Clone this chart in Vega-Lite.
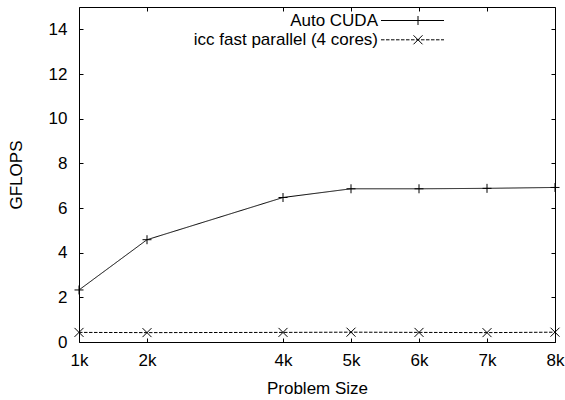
{
  "$schema": "https://vega.github.io/schema/vega-lite/v6.json",
  "width": 476,
  "height": 335,
  "autosize": "none",
  "padding": {"left": 79, "top": 7, "right": 10, "bottom": 58},
  "background": "white",
  "config": {
    "font": "Liberation Sans",
    "view": {"stroke": "black", "strokeWidth": 1},
    "axis": {
      "grid": false,
      "domain": false,
      "tickColor": "black",
      "tickSize": -4,
      "tickWidth": 1,
      "labelColor": "black",
      "labelFontSize": 17,
      "labelFont": "Liberation Sans",
      "titleFontSize": 17,
      "titleFont": "Liberation Sans",
      "titleFontWeight": "normal",
      "titleColor": "black"
    }
  },
  "data": {
    "values": [
      {"series": "Auto CUDA", "size": 1, "gflops": 2.33},
      {"series": "Auto CUDA", "size": 2, "gflops": 4.58},
      {"series": "Auto CUDA", "size": 4, "gflops": 6.47},
      {"series": "Auto CUDA", "size": 5, "gflops": 6.86},
      {"series": "Auto CUDA", "size": 6, "gflops": 6.86},
      {"series": "Auto CUDA", "size": 7, "gflops": 6.88},
      {"series": "Auto CUDA", "size": 8, "gflops": 6.92},
      {"series": "icc fast parallel (4 cores)", "size": 1, "gflops": 0.43},
      {"series": "icc fast parallel (4 cores)", "size": 2, "gflops": 0.42},
      {"series": "icc fast parallel (4 cores)", "size": 4, "gflops": 0.43},
      {"series": "icc fast parallel (4 cores)", "size": 5, "gflops": 0.44},
      {"series": "icc fast parallel (4 cores)", "size": 6, "gflops": 0.43},
      {"series": "icc fast parallel (4 cores)", "size": 7, "gflops": 0.42},
      {"series": "icc fast parallel (4 cores)", "size": 8, "gflops": 0.44}
    ]
  },
  "layer": [
    {
      "mark": {"type": "line", "color": "black", "strokeWidth": 1},
      "encoding": {
        "x": {
          "field": "size", "type": "quantitative",
          "scale": {"domain": [1, 8], "nice": false, "zero": false},
          "axis": {"orient": "bottom", "values": [1, 2, 4, 5, 6, 7, 8], "labelExpr": "datum.value + 'k'", "title": "Problem Size", "labelPadding": 14, "titlePadding": 12, "labelFlush": false}
        },
        "y": {
          "field": "gflops", "type": "quantitative",
          "scale": {"domain": [0, 15], "nice": false, "zero": true},
          "axis": {"orient": "left", "values": [0, 2, 4, 6, 8, 10, 12, 14], "title": "GFLOPS", "labelPadding": 16, "titlePadding": 23}
        },
        "strokeDash": {
          "field": "series", "type": "nominal",
          "scale": {"domain": ["Auto CUDA", "icc fast parallel (4 cores)"], "range": [[1, 0], [3.5, 1.5]]},
          "legend": {
            "orient": "none", "legendX": 325, "legendY": 5, "title": null,
            "symbolType": "M-7,0H7", "symbolSize": 81, "symbolStrokeWidth": 1, "symbolStrokeColor": "black", "symbolFillColor": "transparent",
            "labelAlign": "right", "labelOffset": -43, "labelFontSize": 17, "labelColor": "black", "labelFont": "Liberation Sans", "labelLimit": 400,
            "rowPadding": 1.3, "padding": 0
          }
        }
      }
    },
    {
      "mark": {"type": "point", "filled": false, "color": "black", "strokeWidth": 1, "size": 81, "opacity": 1},
      "encoding": {
        "x": {
          "field": "size", "type": "quantitative",
          "scale": {"domain": [1, 8], "nice": false, "zero": false},
          "axis": {"orient": "top", "values": [1, 2, 4, 5, 6, 7, 8], "labels": false, "title": null}
        },
        "y": {
          "field": "gflops", "type": "quantitative",
          "scale": {"domain": [0, 15], "nice": false, "zero": true},
          "axis": {"orient": "right", "values": [0, 2, 4, 6, 8, 10, 12, 14], "labels": false, "title": null}
        },
        "shape": {
          "field": "series", "type": "nominal",
          "scale": {"range": ["M-1,0H1M0,-1V1", "M-1,-1L1,1M-1,1L1,-1"]},
          "legend": {
            "orient": "none", "legendX": 330.5, "legendY": 5, "title": null,
            "symbolSize": 81, "symbolStrokeWidth": 1, "symbolStrokeColor": "black", "symbolFillColor": "transparent",
            "labelOpacity": 0, "labelExpr": "''", "labelFontSize": 17, "labelAlign": "right", "labelOffset": -43, "labelLimit": 400,
            "rowPadding": 1.3, "padding": 0
          }
        }
      }
    }
  ],
  "resolve": {"axis": {"x": "independent", "y": "independent"}}
}
